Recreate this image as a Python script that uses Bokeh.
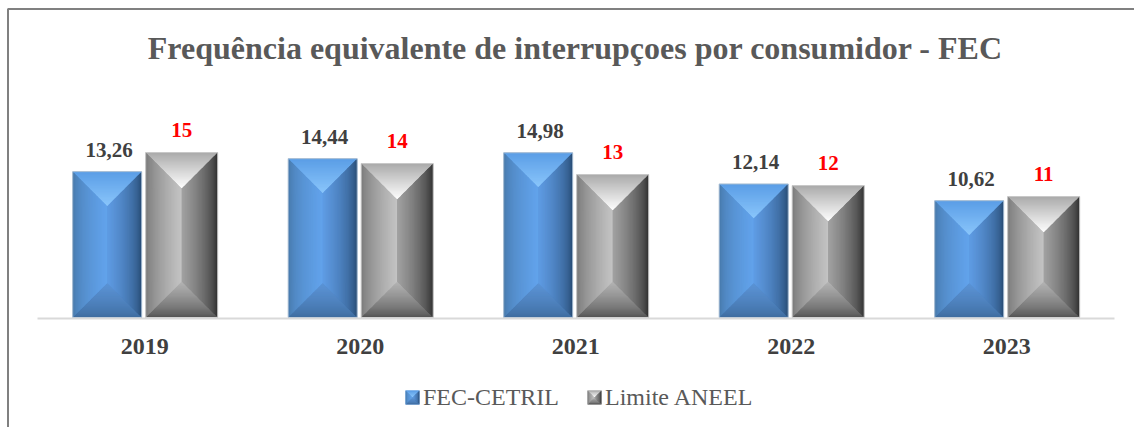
from bokeh.embed import file_html
from bokeh.resources import INLINE
from bokeh.plotting import figure
from bokeh.models import Range1d, FixedTicker, Label, Legend, LegendItem, ColumnDataSource, LinearAxis
from bokeh.core.properties import value

years = ["2019", "2020", "2021", "2022", "2023"]
fec_cetril = [13.26, 14.44, 14.98, 12.14, 10.62]
limite_aneel = [15, 14, 13, 12, 11]
fec_labels = ["13,26", "14,44", "14,98", "12,14", "10,62"]
limite_labels = ["15", "14", "13", "12", "11"]
title_text = "Frequência equivalente de interrupçoes por consumidor - FEC"
series_names = ["FEC-CETRIL", "Limite ANEEL"]

W, H = 1134, 427
PX_X = 215.5      # pixels per category
PX_Y = 11.0       # pixels per unit
X0 = 144.2        # pixel of first category
Y0 = 317.0        # pixel (from top) of value 0

x_range = Range1d(-X0 / PX_X, (W - X0) / PX_X)
y_range = Range1d(-(H - Y0) / PX_Y, Y0 / PX_Y)

def dx(px): return px / PX_X
def dy(px): return px / PX_Y
def sx(px): return (px - X0) / PX_X   # pixel -> data x
def sy(px): return (Y0 - px) / PX_Y   # pixel -> data y

p = figure(width=W, height=H, x_range=x_range, y_range=y_range, output_backend="svg",
           toolbar_location=None, min_border=0, outline_line_color=None,
           background_fill_color="white", border_fill_color="white",
           x_axis_type=None, y_axis_type=None)
p.grid.visible = False

def hex2(c): return tuple(int(c[i:i + 2], 16) for i in (1, 3, 5))
def mix(a, b, t):
    ca, cb = hex2(a), hex2(b)
    return "#%02x%02x%02x" % tuple(round(u + (v - u) * t) for u, v in zip(ca, cb))

# (outer edge colour, inner colour, curve exponent)
BLUE = dict(top=("#5a9de6", "#8ac6fb", 1.0), left=("#41719f", "#62a3ec", 0.45),
            right=("#1f3f63", "#5f9ce4", 0.5), bottom=("#3d6a9c", "#5b93d6", 0.7),
            edge="#a8bdd2", base="#5a94d8")
GRAY = dict(top=("#aaaaaa", "#ffffff", 1.0), left=("#777777", "#c4c4c4", 0.7),
            right=("#262626", "#a2a2a2", 0.6), bottom=("#4e4e4e", "#b4b4b4", 0.7),
            edge="#c8c8c8", base="#9a9a9a")

def bevel(x0, x1, y0, y1, pal, n=30):
    """Nested layers of a pyramid-bevel box, in data coordinates: each layer
    reaches the inner ridge and is overpainted by the next, so no seams show."""
    xs, ys, cs = [], [x for x in []], []
    h = (x1 - x0) / 2
    d = dy((x1 - x0) * PX_X / 2)
    xc, yt, yb = x0 + h, y1 - d, y0 + d
    xs.append([x0, x1, x1, x0]); ys.append([y0, y0, y1, y1]); cs.append(pal["base"])
    for i in range(n):
        a = i / n
        m = (i + 0.5) / n
        xa0, xa1 = x0 + a * h, x1 - a * h
        ya0, ya1 = y0 + a * d, y1 - a * d
        for side, px, py in (
            ("top", [xa0, xa1, xc], [ya1, ya1, yt]),
            ("bottom", [xa0, xa1, xc], [ya0, ya0, yb]),
            ("left", [xa0, xc, xc, xa0], [ya0, yb, yt, ya1]),
            ("right", [xa1, xc, xc, xa1], [ya0, yb, yt, ya1]),
        ):
            c0, c1, e = pal[side]
            xs.append(px); ys.append(py); cs.append(mix(c0, c1, m ** e))
    return xs, ys, cs

OFFS = (dx(-37.5), dx(37.0))
WIDTHS = (dx(69.0), dx(72.0))
PALS = (BLUE, GRAY)

for series, off, w, pal in zip((fec_cetril, limite_aneel), OFFS, WIDTHS, PALS):
    X, Y, C = [], [], []
    for i, v in enumerate(series):
        a, b, c = bevel(i + off - w / 2, i + off + w / 2, 0, v, pal)
        X += a; Y += b; C += c
    p.patches(X, Y, fill_color=C, line_color=None)
    p.quad(left=[i + off - w / 2 for i in range(5)], right=[i + off + w / 2 for i in range(5)],
           bottom=[0] * 5, top=series, fill_color=None, line_color=pal["edge"], line_width=1)

# value labels
p.text(x=[i + OFFS[0] + dx(2) for i in range(5)], y=[v + dy(22) for v in fec_cetril], text=fec_labels,
       text_font=value("Liberation Serif"), text_font_style="bold", text_font_size="21px",
       text_color="#404040", text_align="center", text_baseline="alphabetic")
p.text(x=[i + OFFS[1] for i in range(5)], y=[v + dy(23) for v in limite_aneel], text=limite_labels,
       text_font=value("Liberation Serif"), text_font_style="bold", text_font_size="21px",
       text_color="#ff0000", text_align="center", text_baseline="alphabetic")

# axis
axis = LinearAxis(ticker=FixedTicker(ticks=list(range(5))),
                  major_label_overrides={i: y for i, y in enumerate(years)})
axis.fixed_location = sy(318)
axis.bounds = (sx(37), sx(1114))
axis.axis_line_color = "#d9d9d9"
axis.axis_line_width = 2
axis.major_tick_line_color = None
axis.minor_tick_line_color = None
axis.major_tick_in = 0
axis.major_tick_out = 0
axis.major_label_standoff = 20
axis.major_label_text_font = "Liberation Serif"
axis.major_label_text_font_style = "bold"
axis.major_label_text_font_size = "24px"
axis.major_label_text_color = "#404040"
p.add_layout(axis, "below")

# chart border (left and top sides)
p.line([sx(W), sx(7.5), sx(7.5)], [sy(8.5), sy(8.5), sy(H)], line_color="#808080", line_width=2)

# title
p.add_layout(Label(x=W / 2 + 8, y=H - 47, x_units="screen", y_units="screen", text=title_text,
                   text_font="Liberation Serif", text_font_style="bold", text_font_size="32px",
                   text_color="#595959", text_align="center", text_baseline="middle"))

# legend
sw_x = (405.0, 587.0)
for name, px, pal in zip(series_names, sw_x, PALS):
    a, b, c = bevel(sx(px), sx(px + 14), sy(404), sy(390), pal, n=5)
    p.patches(a, b, fill_color=c, line_color=None)
dummy = ColumnDataSource(dict(x=[float("nan")], y=[float("nan")]))
r1 = p.scatter("x", "y", source=dummy, size=1, fill_alpha=0, line_alpha=0)
r2 = p.scatter("x", "y", source=dummy, size=1, fill_alpha=0, line_alpha=0)
legend = Legend(items=[LegendItem(label=series_names[0], renderers=[r1]),
                       LegendItem(label=series_names[1], renderers=[r2])],
                orientation="horizontal", location=(404, 16), glyph_width=14, glyph_height=14,
                label_standoff=5, spacing=27, padding=0, margin=0,
                background_fill_alpha=0, border_line_color=None,
                label_text_font="Liberation Serif", label_text_font_size="24px",
                label_text_color="#595959")
p.add_layout(legend, "center")

open("out.html", "w").write(file_html(p, INLINE))
